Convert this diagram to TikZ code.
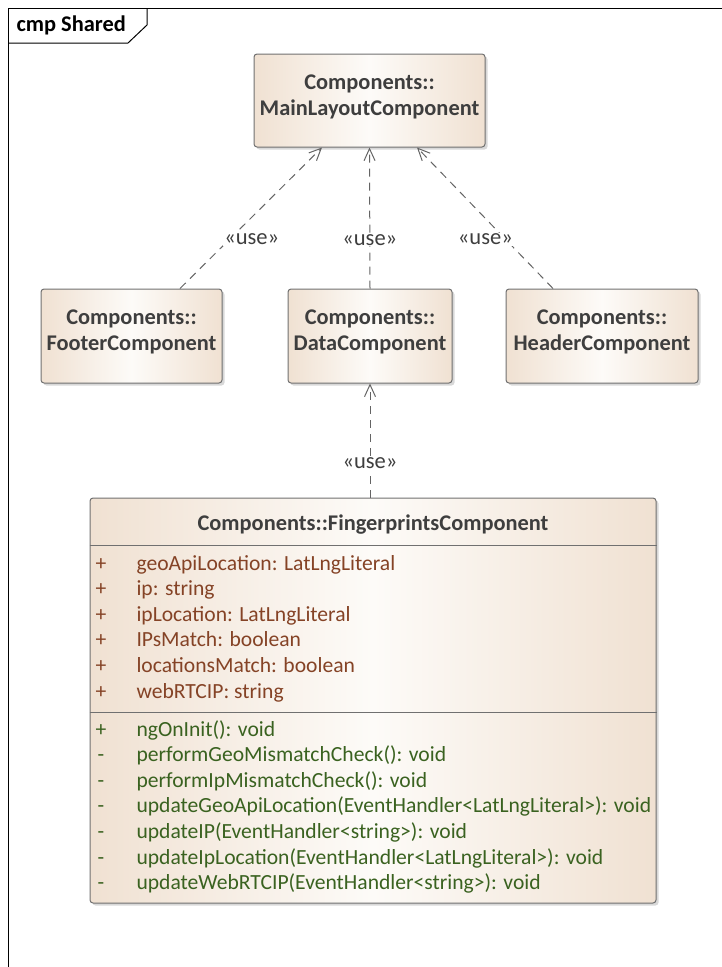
\documentclass[tikz,border=0pt]{standalone}
\usepackage{fontspec}
\setmainfont{Carlito}
\usetikzlibrary{arrows.meta,shadows}

\definecolor{boxline}{RGB}{112,112,112}
\definecolor{boxtan}{RGB}{240,225,210}
\definecolor{boxwhite}{RGB}{253,251,248}
\definecolor{attrcol}{RGB}{133,67,38}
\definecolor{opcol}{RGB}{58,98,32}
\definecolor{inkgray}{RGB}{62,62,62}
\definecolor{linegray}{RGB}{100,100,100}

\newcommand\diafont{\fontsize{21.6}{25}\selectfont}
\newcommand\headfont{\fontsize{22.4}{26}\selectfont\bfseries}

\begin{document}
\begin{tikzpicture}[x=1pt, y=-1pt, line width=1pt,
    comp/.style={draw=boxline, rounded corners=3pt, left color=boxtan, right color=boxtan,
      middle color=boxwhite, align=center, text=inkgray, font=\headfont, text depth=11pt,
      drop shadow={shadow xshift=2.5pt, shadow yshift=-2.5pt, fill=black!30}},
    uses/.style={draw=linegray, dash pattern=on 8pt off 6pt,
      -{Straight Barb[length=12pt,width=11pt]}},
    stereo/.style={fill=white, inner sep=1pt, text=inkgray, font=\fontsize{22.5}{26}\selectfont},
    member/.style={anchor=west, inner sep=0pt, font=\diafont, text height=15pt, text depth=5pt},
    vis/.style={inner sep=0pt, font=\diafont, text height=15pt, text depth=5pt}
  ]
  \useasboundingbox (0,0) rectangle (722,967);

  % frame
  \draw (8,967) -- (8,8) -- (722,8);
  \draw (8,43) -- (128,43) -- (147,25) -- (147,8);
  \node [anchor=west, inner sep=0pt, font=\headfont] (frametitle) at (16,25) {cmp Shared};

  % components
  \node [comp, minimum width=231pt, minimum height=93pt] (main) at (369.5,100.5) {Components::\\MainLayoutComponent};
  \node [comp, minimum width=181pt, minimum height=94pt] (footer) at (131.5,336) {Components::\\FooterComponent};
  \node [comp, minimum width=164pt, minimum height=94pt] (data) at (370,336) {Components::\\DataComponent};
  \node [comp, minimum width=192pt, minimum height=94pt] (header) at (602,336) {Components::\\HeaderComponent};

  \node [comp, minimum width=566pt, minimum height=405pt] (fp) at (373,700.5) {};
  \node [font=\headfont, text=inkgray] (fptitle) at (373,525) {Components::FingerprintsComponent};
  \draw [boxline] ([yshift=-48pt]fp.north west) -- ([yshift=-48pt]fp.north east);
  \draw [boxline] ([yshift=-215pt]fp.north west) -- ([yshift=-215pt]fp.north east);

  \foreach \v/\t [count=\i] in {+/geoApiLocation: LatLngLiteral, +/ip: string,
      +/ipLocation: LatLngLiteral, +/IPsMatch: boolean, +/locationsMatch: boolean,
      +/webRTCIP: string}{
      \node [vis, text=attrcol] (av\i) at (101,{565+25.6*(\i-1)}) {\v};
      \node [member, text=attrcol] (at\i) at (136,{565+25.6*(\i-1)}) {\t};
    }
  \foreach \v/\t [count=\i] in {+/ngOnInit(): void, -/performGeoMismatchCheck(): void,
      -/performIpMismatchCheck(): void,
      -/updateGeoApiLocation(EventHandler<LatLngLiteral>): void,
      -/updateIP(EventHandler<string>): void,
      -/updateIpLocation(EventHandler<LatLngLiteral>): void,
      -/updateWebRTCIP(EventHandler<string>): void}{
      \node [vis, text=opcol] (ov\i) at (101,{731+25.6*(\i-1)}) {\v};
      \node [member, text=opcol] (op\i) at (136,{731+25.6*(\i-1)}) {\t};
    }

  % dependencies
  \draw [uses] ([xshift=48.5pt]footer.north) -- node [stereo, pos=0.35, xshift=22pt] (u1) {«use»} ([xshift=-47.5pt]main.south);
  \draw [uses] (data.north) -- node [stereo, pos=0.345] (u2) {«use»} (main.south);
  \draw [uses] ([xshift=-49pt]header.north) -- node [stereo, pos=0.35, xshift=-20pt] (u3) {«use»} ([xshift=47.5pt]main.south);
  \draw [uses] ([xshift=-3pt]fp.north) -- node [stereo, pos=0.3] (u4) {«use»} (data.south);
\end{tikzpicture}
\end{document}
